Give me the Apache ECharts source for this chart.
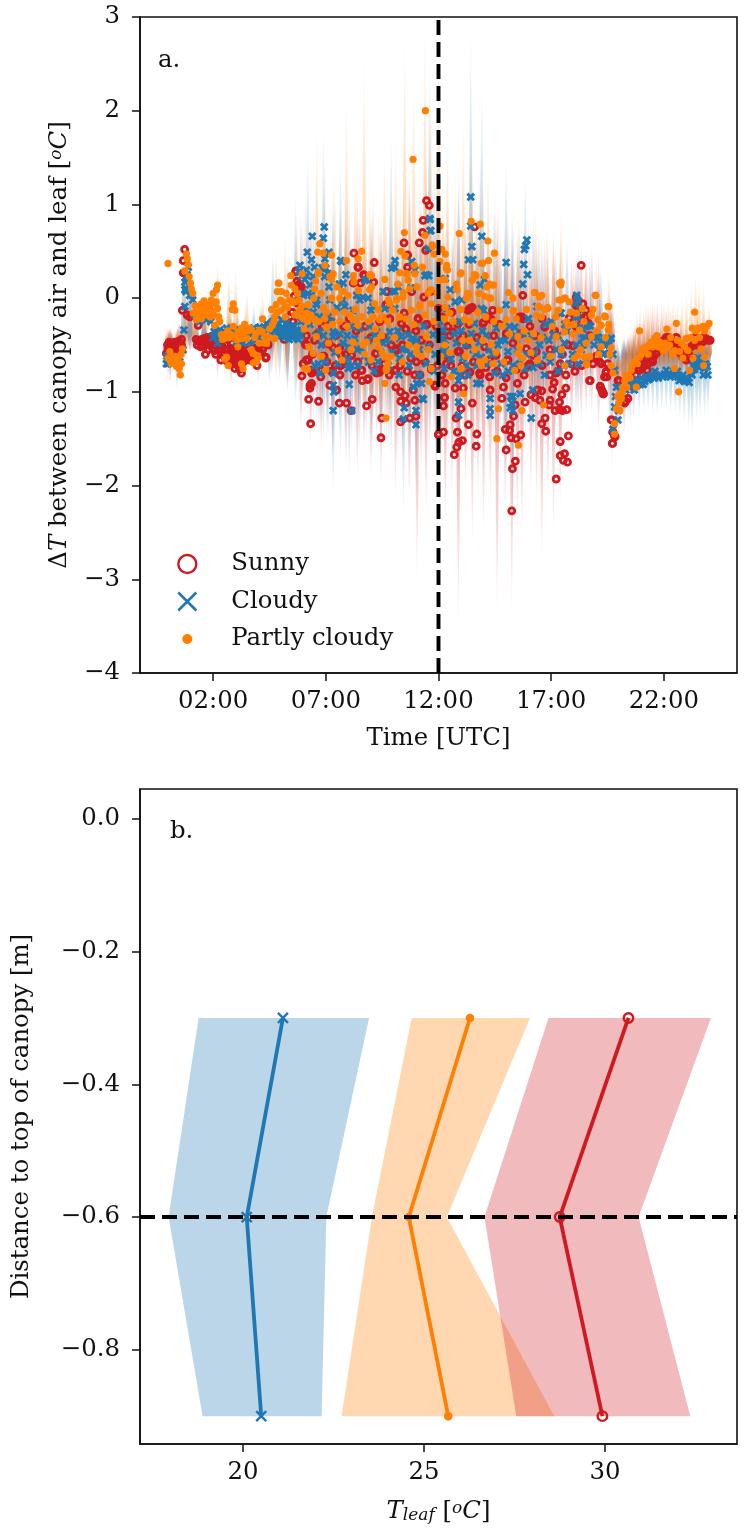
<!DOCTYPE html>
<html><head><meta charset="utf-8">
<style>html,body{margin:0;padding:0;background:#fff}#c{width:748px;height:1533px}</style>
<script src="https://cdn.jsdelivr.net/npm/echarts@6/dist/echarts.min.js"></script>
</head><body><div id="c"></div>
<script>
const timeTicks=[2,7,12,17,22];
const depthTicks=[0,-0.2,-0.4,-0.6,-0.8];
const leafTicks=[20,25,30];
const seriesNames=['Sunny','Cloudy','Partly cloudy'];

const sunnyPoints=[[-.07,-.59],[0,-.54],[.15,-.5],[.3,-.52],[.45,-.48],[.6,-.44],[.08,-.6],[.2,-.55],[.42,-.55],[.5,-.53],[.3,-.47],[.1,-.66],[.35,-.62],
[.74,.52],[.68,.4],[.68,.27],[.64,-.13],[.97,-.2],[1.34,-.29],[.85,-.18],
[1.4,-.45],[1.63,-.43],[1.93,-.41],[1.55,-.5],[1.85,-.5],[2.07,-.56],[2.3,-.54],[2.5,-.59],[2.8,-.54],[2.9,-.63],[3.04,-.68],[2.75,-.7],[3.1,-.59],[3.4,-.61],[3.63,-.66],[2.97,-.75],[3.26,-.8],[1.66,-.6],[1.25,-.44],[1.7,-.48],[2.0,-.48],[2.4,-.6],[2.62,-.55],[3.2,-.67],[3.5,-.55],[3.75,-.53],[1.5,-.44],[2.2,-.5],[2.7,-.62],[3,-.57],[3.25,-.52],[3.95,-.72],[4.34,-.64],[4.44,-.5],[5.15,-.44],[3.75,-.67],[4.35,-.63],[4.1,-.58],[2.55,-.65],[2.85,-.48],
[6.1,-.49],[6.18,-.66],[6.0,-.7],[6.44,-.79],[6.3,-.93],[5.77,.1],[5.67,.29],[5.85,.09],[5.78,.05],[5.92,.12],[5.68,.28],[5.4,-.2],[5.3,-.28],[6.12,-.5],[6.41,-.6],[5.94,-.83],[6.22,-.66],[6.37,-.8],[6.78,-.84],[6.8,-.77],[6.92,-.62],[6.3,-.96],[6.37,-.91],[6.24,-1.08],[6.68,-1.1],[6.33,-1.34],[7.18,-.93],[7.29,-.78],[7.66,-.72],[7.63,-.82],[7.48,-.98],[7.6,-1.12],[7.92,-1.12],[7.14,-.49],[7.89,-.6],[8.14,-.61],[8.6,-.77],[8.62,-.88],[8.85,-.87],[9.06,-1.08],[8.81,-1.15],[8.12,-1.2],[9.25,-.8],[9.38,-.76],[9.22,-.59],[10.07,-.77],[10.11,-.95],[10.14,-.54],[10.32,-1],[10.51,-1.04],[10.33,-1.1],[10.56,-1.12],[10.95,-1.09],[10.88,-.98],[11.18,-.82],[9.48,-1.28],[9.45,-1.49],[10.32,-1.32],[10.73,-1.28],[11,-1.26],[12,-1.46],[11.84,-.93],[11.7,-.75],
[8.25,.48],[8.44,.33],[8.71,.24],[8.22,.16],[8.54,.16],[9.12,.17],[9.15,.38],[10.47,.59],[10.63,.46],[10.63,.33],[10.81,.07],[11.65,.07],[9.7,.07],[11.35,.01],[9.67,-.07],[10.48,-.16],[11.1,-.22],[11.51,-.28],[9.58,-.22],[10.36,-.27],[12,-.11],[11.47,1.04],[11.59,.99],[11.32,.83],[11.29,.7],[11.15,.59],[11.43,.51],
[8.43,.33],[8.68,.25],[9.72,.07],[9.69,-.07],[9.84,-.22],[9.39,-.25],[11.09,-.22],[11.46,-.28],[6.11,-.49],[6.88,-.62],[7.1,-.48],[7.69,-.61],[8.14,-.61],[6.36,-.77],[6.8,-.77],[7.25,-.78],[7.65,-.72],[8.58,-.77],[8.88,-.86],[9.39,-.79],[10.13,-.56],[10.1,-.77],[10.77,-.64],[9.22,-.59],[11.02,-.68],[11.68,-.76],[12.35,-.7],[6.14,-.4],[7.33,-.53],[7.62,-.53],[6.14,-.66],
[12.3,-.91],[11.85,-.94],[12.27,-1.06],[12.22,-1.15],[12.78,-1.28],[12.22,-1.43],[12,-1.45],[12.84,-1.43],[13,-1.18],[13.5,-1.12],[13.33,-1.35],[13.06,-1.52],[12.9,-1.54],[12.81,-1.59],[12.7,-1.67],[13.7,-1.45],[13.67,-1.58],[14.29,-.98],[14.81,-1.07],[14.88,-.95],[13.18,-.82],[13.4,-.79],[13.85,-.82],[14.26,-.84],[13.1,-.96],[12.74,-.96],[12.93,-.57],[12.34,-.61],[15.18,-1.35],[14.96,-1.4],[15.15,-1.41],[15.65,-1.46],[15.44,-1.5],[15.22,-1.49],[15,-1.62],[15.41,-1.74],[15.28,-1.82],[15.25,-2.27],[15.33,-1.26],[15.4,-1.14],[15.84,-1.11],[15.5,-.91],[16.73,-1.28],[16.58,-1.34],[16.76,-1.42],[17.4,-1.53],[17.76,-1.47],[17.4,-1.68],[17.59,-1.66],[17.54,-1.73],[17.72,-1.75],[17.22,-1.93],[16.91,-1.14],[16.95,-1.09],[17.17,-1.2],[17.37,-1.19],[17.5,-1.2],[17.69,-1.19],[17.37,-1.11],[17.47,-1.03],[17.65,-.96],[17.06,-.97],[17.13,-.9],[17.32,-.78],[16.5,-1.09],[16.29,-1.06],[16.1,-1.03],[16.58,-.99],[16.4,-.98],[15.06,-.66],[17.96,-.51],[18.73,-.88],[19.17,-.94],[19.24,-.98],[19.32,-1.02],[19.47,-.84],[19.43,-.79],
[20,-.88],[19.69,-1.3],[19.73,-1.43],[19.83,-1.48],[19.72,-1.55],[18.33,.35],[15.74,.03],[13.6,.76],[16.73,-.3],[17.8,-.21],[15.7,-.2],[14,-.26],[14.3,-.22],[13.4,-.11],[13.97,-.27],[14.34,-.23],[13.31,-.13],[16.71,-.31],[15.08,-.66],[14.27,-.84],[13.82,-.8],[13.38,-.79],[12.86,-.57],[12.2,-.41],[15.97,-.72],[17.22,-.8],[16.34,-.57],[13.25,-.5],[14.27,-.66],[12.64,-.36],[12.5,-.4],[12.42,-.3],[15.6,-.2],[15.75,-.22],[13.5,-.1],[14.4,-.13],[12.94,-.45],[14.2,-.2],[18.11,.01],[18.2,-.03],[18.4,-.06],[18.55,-.13],[18.1,-.08],[14.56,-.61],[17.89,-.7],[15.9,-.54],[18.33,-.22],[16.19,-.61],
[18.2,-.1],[18.35,-.17],[18.5,-.2],[18.65,-.27],[18.63,-.29],[18.85,-.7],[19.15,-.68],[19.22,-.7],[19.44,-.78],[19.36,-.84],[18.7,-.88],[19.18,-.95],[19.27,-1],[19.3,-1.02],[19.66,-1.3],[19.74,-1.43],[19.81,-1.47],[19.71,-1.55],[20.4,-1.07],[20.25,-1.12],[19.96,-.88],[20.3,-1.1],
[20.92,-.77],[20.75,-.82],[21.14,-.72],[21.3,-.7],[21.44,-.66],[21.55,-.62],[21.66,-.59],[21.8,-.54],[22.0,-.45],[22.25,-.45],[22.47,-.47],[22.6,-.5],[22.7,-.58],[22.84,-.63],[22.99,-.66],[23.1,-.6],[23.3,-.5],[23.51,-.45],[23.7,-.47],[23.95,-.45],[23.85,-.43],[24.05,-.45],[21.26,-.77],[21.0,-.7],[21.25,-.65],[23.4,-.42],[22.2,-.42],[22.35,-.45]];
const sunnyExtra=[[-.02,-.5],[.05,-.47],[.12,-.55],[.24,-.6],[.38,-.5],[.55,-.5],[.02,-.62],[.22,-.48],[.48,-.46],[.6,-.5],
[1.3,-.5],[1.45,-.52],[1.58,-.46],[1.75,-.42],[1.9,-.45],[2.05,-.44],[2.15,-.46],[2.3,-.47],[2.42,-.52],[2.55,-.5],[2.66,-.6],[2.78,-.58],[2.88,-.55],[3.02,-.62],[3.12,-.52],[3.2,-.6],[3.32,-.55],[3.45,-.66],[3.55,-.6],[3.68,-.58],[3.82,-.6],[3.9,-.55],[4.02,-.52],[4.2,-.55],[1.8,-.55],[1.98,-.54],[2.12,-.6],[2.35,-.66],[2.65,-.68],[2.86,-.7],[3.1,-.72],[3.18,-.76],[3.35,-.68],[2.95,-.66],[1.45,-.46],[1.35,-.46],
[5.72,.18],[5.82,.15],[5.6,.02],[5.72,-.05],[5.5,-.15],[5.55,-.25],[6.03,-.15],[6.65,-.38],[6.5,-.45],[6.85,-.3],[7.2,-.25],[7.45,-.4],[7.8,-.3],[8.05,-.22],[8.35,-.35],[8.75,-.3],[9.0,-.42],[9.55,-.42],[9.9,-.5],[10.4,-.5],[10.55,-.33],[11,-.35],[11.25,-.45],[11.6,-.5],[11.9,-.3],[12.15,-.2],[12.6,-.15],[12.85,-.28],[13.1,-.4],[13.35,-.28],[13.7,-.42],[14.05,-.52],[14.45,-.4],[14.7,-.28],[15.0,-.38],[15.3,-.48],[15.65,-.38],[16.05,-.3],[16.3,-.4],[16.6,-.22],[16.95,-.55],[17.15,-.35],[17.5,-.6],[17.75,-.5],[18.1,-.3],[18.7,-.4],[19,-.62],[19.5,-.7],
[7.05,-.68],[7.42,-.72],[7.78,-.7],[8.32,-.82],[8.42,-.68],[9.05,-.72],[9.6,-.7],[9.82,-.82],[10.3,-.72],[10.62,-.78],[10.95,-.82],[11.4,-.68],[11.95,-.72],[12.15,-.82],[12.55,-.72],[13.05,-.72],[13.55,-.68],[14.1,-.74],[14.6,-.78],[15.0,-.85],[15.45,-.76],[15.8,-.82],[16.05,-.7],[16.6,-.72],[16.95,-.82],[17.4,-.7],[17.65,-.82],[18.05,-.78],[18.35,-.72],
[20.85,-.75],[21.05,-.73],[21.2,-.63],[21.4,-.6],[21.5,-.68],[21.7,-.52],[21.9,-.48],[22.1,-.42],[22.3,-.5],[22.55,-.42],[22.75,-.52],[22.9,-.58],[23.05,-.62],[23.2,-.52],[23.45,-.5],[23.6,-.46],[23.75,-.42],[20.6,-.88]];

const cloudyPoints=[[-.07,-.7],[.67,-.55],[.52,-.63],[.08,-.67],[.3,-.68],[0,-.7],[-.05,-.62],[.71,-.34],[.75,-.09],[.75,.09],[.9,.33],[.83,.19],[.75,.17],[.82,.1],[.97,.03],[.8,.07],[1.1,-.02],[.85,.25],
[1.4,-.25],[1.7,-.23],[1.9,-.25],[1.2,-.18],[1.55,-.16],[2.15,-.4],[2.3,-.34],[2.6,-.32],[2.9,-.36],[3.2,-.34],[3.5,-.34],[3.8,-.32],[4.07,-.31],[4.37,-.27],[4.66,-.25],[4.8,-.34],[5.1,-.31],[5.4,-.38],[5.03,-.23],[5.2,-.37],[5.7,-.34],[5.5,-.42],[5.7,-.42],[2.6,-.43],[3.04,-.47],[3.33,-.48],[3.63,-.47],[3.9,-.45],[2.2,-.48],[2.45,-.38],[2.75,-.4],[3.05,-.37],[3.35,-.37],[3.65,-.38],[3.95,-.38],[4.2,-.33],[4.5,-.3],[4.9,-.28],[5.25,-.27],[5.45,-.3],[5.6,-.3],[5.8,-.36],[5.9,-.25],[2.0,-.42],
[6.93,.76],[6.89,.64],[6.4,.66],[6.18,.49],[7.14,.49],[6.37,.41],[5.85,.35],[5.81,.28],[6.96,.42],[6.84,.32],[7.0,.32],[7.66,.4],[7.89,.25],[7.6,.15],[7.14,.12],[5.93,.24],[6.15,.24],[6.44,.23],[6.22,.05],[6.0,.03],[6.37,.03],[6.59,-.07],[6.59,-.02],[7.18,-.02],[8.37,.03],[8.81,.2],[8.51,-.02],[10.07,.4],[9.92,.32],[9.55,.07],[9.99,.07],[10.81,.39],[10.78,.11],[11.62,.85],[11.66,.72],[11.54,.53],[11.4,.24],[11.57,.24],[10.21,.12],[9.62,-.11],[10.07,-.11],[9.0,-.13],[7.75,-.02],[8.65,.01],[8.2,-.13],
[6.14,.3],[6.5,.33],[6.95,.33],[7.7,.39],[6.29,.14],[6.07,.2],[6,.05],[6.58,-.06],[6.44,-.15],[6.95,.23],[7.1,.26],[7.77,.16],[7.84,-.09],[8.73,.19],[8.88,0],[9.1,-.09],[10.06,.33],[11.46,.25],[10.95,.3],[10.06,.07],[7.25,-.25],[6.8,-.5],[7.33,-.36],[7.62,-.38],[8.5,-.32],[8.28,-.43],[8.58,-.54],[8,-.52],[8.06,-.73],[7.77,-.48],[9.25,-.36],[9.54,-.48],[9.32,-.68],[10.06,-.43],[10.35,-.41],[10.65,-.39],[10.87,-.43],[10.57,-.54],[10.28,-.64],[10.8,-.47],[11.02,-.45],[11.17,-.82],[11.76,-.39],[9.84,-.36],[8.88,-.45],[7.33,-.41],[6.73,-.36],[11.02,-.54],[12.2,-.43],[9.17,-.4],
[7.33,-1.2],[8.15,-1.2],[8.04,-.92],[11.33,-1.08],[11,-1.2],[11,-1.35],[10.44,-1.29],[10.48,-1.17],[10.9,-.95],[7.33,-.93],[7.33,-.8],[6.74,-.8],[6.67,-.7],[8,-.75],[8.15,-.72],[7.36,-1],[11.03,-.91],[11.25,-.91],[11.28,-1.07],
[13.43,1.08],[13.43,.77],[13.92,.66],[13.48,.55],[13.33,.41],[13.52,.41],[15,.38],[15.92,.62],[15.87,.56],[15.81,.52],[15.78,.36],[15.95,.25],[15.74,.15],[15,-.07],[13.85,.14],[14.04,.2],[12.52,.09],[12.3,.21],[11.63,.84],[11.63,.72],[15.99,-.22],[16.36,-.09],[17.44,-.16],[18.13,.03],[18.06,-.06],[12.74,-.04],[13.03,-.02],[12.37,-.11],[14,-.13],
[12.89,-1.11],[12.89,-1.25],[16.11,-1.28],[14.29,-1.07],[14.29,-1.18],[14.29,-1.25],[15.2,-1.05],[15.25,-1.12],[15.3,-1.2],[15.18,-1.17],[15.3,-1.05],[16.18,-.98],[13.7,-.91],[13.85,-.91],[12.89,-.88],[15.62,-1.02],
[12.94,-.25],[12.2,-.34],[13.9,-.11],[13.6,-.27],[14.56,-.32],[15.38,-.31],[15.97,-.22],[17.37,-.16],[17.08,-.39],[15.4,-.4],[13.82,-.47],[14.64,-.5],[15.08,-.57],[13.08,-.64],[13.9,-.63],[14.78,-.7],[16.48,-.5],[16.78,-.61],[16.48,-.7],[18.26,-.31],[18.4,-.43],[17.59,-.48],[17.22,-.55],[15.6,-.7],[14.49,-.8],[12.42,-.6],[13.53,-.55],[18.18,-.2],[14.12,-.4],[12.2,-.57],[12.94,-.82],[18.55,-.66],[18.11,-.5],[16.1,-.4],[16.9,-.45],[17.7,-.35],[15.1,-.78],[16.7,-.82],[17.8,-.7],[12.7,-.38],[13.25,-.72],
[18.41,-.33],[18.48,-.42],[18.63,-.29],[18.93,-.41],[19.22,-.48],[19.44,-.5],[19.66,-.43],[18.33,-.55],[18.41,-.5],[19.15,-.55],[19.37,-.59],[18.9,-.5],[19.55,-.5],[19.81,-.77],[19.89,-.95],[20.11,-1.04],[19.81,-1.16],[19.96,-1.3],[19.74,-1.4],[19.98,-1.2],[19.85,-1.05],[19.74,-.6],
[20.3,-.98],[20.45,-.95],[20.62,-.93],[20.8,-.93],[20.95,-.92],[21.15,-.89],[21.3,-.87],[21.37,-.86],[21.5,-.83],[21.66,-.82],[21.85,-.82],[22.03,-.81],[22.2,-.81],[22.4,-.81],[22.5,-.82],[22.62,-.84],[22.75,-.86],[22.92,-.89],[23.0,-.88],[23.06,-.86],[23.18,-.8],[23.29,-.72],[23.4,-.68],[23.51,-.64],[23.6,-.68],[23.7,-.72],[23.8,-.75],[23.95,-.82],[23.92,-.73],[20.7,-.88],[21.0,-.85],[21.6,-.78],[22.1,-.77],[22.6,-.78],[23.25,-.82],[23.55,-.74]];
const cloudyExtra=[[2.05,-.36],[2.2,-.37],[2.35,-.42],[2.5,-.36],[2.68,-.36],[2.82,-.33],[2.98,-.4],[3.12,-.42],[3.28,-.38],[3.42,-.42],[3.58,-.38],[3.72,-.36],[3.88,-.35],[4.0,-.42],[4.13,-.36],[4.28,-.38],[4.42,-.32],[4.58,-.38],[4.72,-.3],[4.85,-.38],[4.98,-.34],[5.12,-.36],[5.32,-.33],[5.38,-.44],[5.52,-.36],[5.62,-.4],[5.78,-.44],[5.88,-.4],[5.18,-.42],[5.05,-.4],
[6.08,-.1],[6.3,-.28],[6.55,-.4],[6.72,-.2],[6.9,-.4],[7.1,-.2],[7.5,-.1],[7.4,-.58],[7.95,-.4],[8.12,-.3],[8.4,-.55],[8.7,-.62],[8.95,-.3],[9.45,-.58],[9.7,-.45],[9.95,-.58],[10.2,-.35],[10.42,-.55],[10.75,-.6],[11.15,-.55],[11.35,-.3],[11.55,-.52],[11.85,-.6],[12.05,-.25],[12.3,-.5],[12.55,-.65],[12.8,-.48],[13.0,-.35],[13.2,-.5],[13.45,-.38],[13.65,-.6],[13.95,-.35],[14.25,-.55],[14.4,-.6],[14.75,-.45],[14.95,-.45],[15.15,-.3],[15.5,-.55],[15.75,-.38],[15.9,-.6],[16.25,-.58],[16.6,-.42],[16.75,-.28],[17.0,-.25],[17.3,-.4],[17.45,-.6],[17.6,-.28],[17.95,-.6],[18.1,-.2],[18.3,-.12],[18.2,-.03],[18.75,-.3],[19.05,-.42],[19.3,-.42],[19.5,-.6],
[6.52,-.72],[6.98,-.68],[7.55,-.7],[7.98,-.65],[8.45,-.72],[8.9,-.68],[9.15,-.78],[9.78,-.72],[10.25,-.82],[10.7,-.72],[11.45,-.7],[11.8,-.78],[12.25,-.75],[12.68,-.78],[13.3,-.82],[13.7,-.72],[14.2,-.7],[14.85,-.82],[15.3,-.72],[15.85,-.75],[16.2,-.74],[16.95,-.68],[17.3,-.78],[17.55,-.72],[18.2,-.7],
[20.5,-.9],[20.68,-.98],[20.88,-.88],[21.08,-.92],[21.22,-.84],[21.42,-.82],[21.58,-.85],[21.75,-.85],[21.95,-.84],[22.28,-.84],[22.45,-.78],[22.68,-.88],[22.85,-.82],[23.12,-.9],[23.35,-.76],[23.45,-.72],[23.75,-.82],[23.85,-.7]];

const partlyPoints=[[.08,-.57],[.64,-.54],[0,-.64],[.23,-.64],[.15,-.7],[.38,-.73],[.55,-.82],[.6,-.7],[.3,-.62],[.45,-.65],[0,.37],
[.82,.47],[.9,.36],[.75,.29],[.94,.23],[1,.16],[1.04,.1],[1.1,.05],[.86,.42],
[1.12,-.16],[1.26,-.13],[1.48,-.06],[1.7,-.07],[1.85,-.09],[2,-.06],[2.2,-.11],[2.14,-.04],[1.64,-.13],[1.45,-.12],[1.78,-.15],[1.26,-.23],[1.48,-.22],[2,.05],[2.2,.14],[2.15,.09],[2.9,-.06],[2.85,-.12],[2.97,-.13],[2.3,-.25],[2.07,-.29],[1.6,-.03],[1.95,-.14],
[2.37,-.39],[2.5,-.43],[2.8,-.39],[3.1,-.36],[3.26,-.32],[3.5,-.43],[3.63,-.32],[4.07,-.34],[4.3,-.41],[4.37,-.48],[4.05,-.48],[3.25,-.43],[4.73,-.43],[3.1,-.52],[3.78,-.59],[3.92,-.61],[4,-.63],[3.7,-.55],[2.6,-.63],[2.52,-.65],[2.67,-.72],[3.26,-.7],[3.33,-.75],[3.78,-.69],[4.63,-.29],[4.73,-.2],[4.89,.16],[4.85,.07],[5.03,.07],[5.47,.14],[4.8,-.07],[5.03,-.13],[5.18,-.09],[5.4,-.02],[5.62,-.04],[5.1,-.04],[5.7,-.17],[6,-.22],[6.14,-.16],[5.92,-.09],[6.2,-.25],[6.5,.1],[6.47,0],[5.95,.26],[3.93,-.68],
[2.9,-.3],[3.4,-.28],[3.9,-.38],[4.5,-.33],[2.65,-.35],[4.2,-.22],[4.6,-.12],
[5.45,.24],[4.92,.16],[5.63,.1],[6.74,.58],[6.64,.49],[6.89,.48],[7.26,.46],[6.67,.26],[7.33,.26],[7.26,.2],[6.96,.35],[8.59,.5],[8.44,.42],[7.92,.4],[8.22,.24],[8.25,.17],[9.03,.24],[10.33,.5],[10.51,.45],[10.58,.26],[10.92,.35],[10.95,.26],[10.44,.06],[11.4,.67],[11.74,.55],[11.29,.33],[11.18,-.07],[10.14,0],[9.78,-.02],[10.49,.7],[11.42,2],[10.87,1.48],
[6.66,.28],[7.18,.23],[7.77,.07],[7.25,0],[7.62,0],[7.99,.03],[6.8,.05],[5.85,-.13],[6.2,-.07],[6.14,-.23],[5.92,-.2],[7.03,-.15],[6.95,-.22],[7.4,-.15],[7.62,-.25],[7.84,-.15],[8.06,-.18],[8.21,-.23],[8.43,-.29],[8.95,.25],[8.95,.09],[9.17,-.06],[9.1,-.2],[9.39,-.23],[9.54,-.2],[9.84,-.06],[10.13,-.02],[9.98,-.13],[10.28,.27],[10.57,.26],[10.65,.19],[10.72,.1],[10.43,.01],[10.28,-.2],[10.8,-.13],[11.17,-.09],[11.68,.09],[11.54,.05],[11.68,-.06],[7.03,-.31],[6.51,-.23],[6.58,-.41],[9.25,-.45],[9.47,-.4],[8.8,-.47],[8.65,-.5],[9.32,-.52],[8.21,-.47],[7.55,-.56],[9.76,-.7],[9.69,-.75],[9.62,-.63],[11.02,-.52],[11.02,-.57],[11.68,-.75],[12.28,-.5],[11.46,-.41],[6.44,-.59],[6.07,-.75],[7,-.77],[9.03,.12],
[6.19,-.76],[9.62,-.91],[9.67,-1.28],[11.6,-.89],[9.68,-.77],
[12.92,.69],[13.45,.82],[13.85,.79],[14.19,.61],[14.48,.48],[14.22,.4],[13.95,.37],[13,.27],[13.66,.24],[13.5,.19],[14.07,.24],[14.44,.14],[14.14,.12],[14.04,.02],[14.32,0],[15.1,.06],[15.33,-.13],[13.33,.03],[12.81,.09],[12.07,.77],[12.15,.52],[12.3,.47],[11.8,.47],[11.72,.57],[12.07,.39],[12.37,.35],[12.4,.3],[12.07,.19],[17.44,.17],[17.42,.14],[16.29,.06],[16.58,.03],[16.47,-.09],[16.84,-.1],[17.44,-.02],[17.62,0],[17.32,-.13],[18.98,.03],[19.55,-.09],[19.4,-.2],
[12.98,.26],[13.9,.37],[13.6,.25],[14.41,.14],[13.3,.05],[13.79,.05],[14.27,0],[12.35,.32],[12.28,.2],[12.82,.09],[13.23,0],[12.42,.01],[17.37,.16],[16.26,.06],[16.48,.01],[16.41,-.09],[16.85,-.11],[17.34,-.02],[17.59,0],[17.8,-.04],[17.3,-.13],[16.34,-.18],[16.56,-.2],[15.3,-.14],[14.71,-.13],[15,-.23],[12.49,-.16],[12.27,-.22],[13.16,-.23],[13.08,-.45],[13.38,-.45],[14.34,-.5],[13.97,-.45],[15.52,-.41],[15.6,-.52],[15.97,-.45],[17.22,-.41],[17.59,-.36],[18.11,-.16],[17.74,-.29],[17.96,-.38],[18.18,-.61],[18.03,-.64],[15.52,-.59],[15.38,-.77],[15.75,-.64],[13.82,-.68],[13.01,-.75],[14.05,-.66],[18.55,-.48],[17.67,-.25],[14.41,-.7],[12.57,-.84],
[15.55,-1.57],[14.59,-1.5],[15.7,-1.2],[14.66,-1.18],[13.11,-1.02],[16.66,-1.14],[18.58,-.71],
[18.95,.03],[19.52,-.09],[19.37,-.19],[19.07,-.23],[18.78,-.18],[19.22,-.29],[19.52,-.34],[18.38,-.11],[18.26,-.34],[18.78,-.41],[19.22,-.52],[19.66,-.53],[18.48,-.63],[18.56,-.7],[19.66,-.72],[19.74,-.8],
[20.92,-.35],[22.13,-.33],[22.55,-.27],[23.36,-.15],[24,-.27],[23.26,-.32],[23.51,-.32],[23.8,-.35],[21.69,-.4],[22.99,-.43],[21.59,-.43],[21.44,-.47],[21.22,-.52],[21.07,-.54],[20.92,-.63],[20.7,-.68],[20.55,-.77],[20.26,-.88],[20.18,-.95],[20.4,-.85],[20.77,-.95],[20.11,-1.07],[20,-1.12],[19.89,-1.18],[20.04,-1.2],[19.81,-1.34],[19.81,-1.45],[22.65,-1],[22.47,-.75],[23.14,-.77],[23.8,-.63],[23.76,-.72],[21.96,-.56],[22.25,-.5],[22.47,-.56],[22.18,-.52],[22.69,-.57],[22.84,-.64],[23.36,-.45],[23.65,-.54],[23.29,-.64],[21.81,-.47],[22.4,-.6],[23.06,-.56],[21.3,-.6],[21.0,-.6],[21.5,-.52],[21.75,-.52],[20.5,-.85],[20.35,-.95],[20.15,-1],[19.95,-1.05]];
const partlyExtra=[[.12,-.68],[.28,-.7],[.5,-.75],[.58,-.6],[1.2,-.08],[1.38,-.2],[1.55,-.17],[1.72,-.18],[1.88,-.2],[2.05,-.18],[2.25,-.2],[1.35,-.1],[1.92,-.02],[2.42,-.44],[2.58,-.38],[2.72,-.42],[2.95,-.42],[3.05,-.44],[3.18,-.4],[3.35,-.37],[3.55,-.35],[3.72,-.34],[3.85,-.42],[4.18,-.36],[4.28,-.48],[4.5,-.42],[4.7,-.25],[4.85,-.15],[5.0,-.02],[5.2,-.2],[5.3,-.1],[5.5,-.05],[5.62,-.18],[5.82,-.02],[5.75,.05],[5.25,.05],
[6.05,-.33],[6.25,-.52],[6.35,-.18],[6.55,.18],[6.7,-.25],[6.82,-.62],[6.9,-.1],[7.12,-.48],[7.3,-.28],[7.5,.12],[7.72,-.66],[7.95,-.3],[8.12,-.55],[8.3,-.12],[8.45,.08],[8.6,-.2],[8.72,-.6],[8.9,-.25],[9.0,-.66],[9.2,-.33],[9.33,-.12],[9.5,-.58],[9.62,.2],[9.75,-.25],[9.9,-.62],[10.05,-.42],[10.2,.15],[10.4,-.68],[10.55,-.22],[10.68,-.5],[10.9,-.28],[11.05,.12],[11.25,-.62],[11.4,-.18],[11.55,-.55],[11.8,-.25],[11.95,.05],[12.1,-.62],[12.3,-.1],[12.5,-.58],[12.65,-.25],[12.8,.15],[13.0,-.12],[13.2,-.62],[13.4,-.25],[13.6,-.55],[13.75,-.15],[13.9,-.72],[14.1,-.2],[14.25,.15],[14.45,-.25],[14.55,-.58],[14.8,-.3],[14.9,-.68],[15.15,-.38],[15.3,.0],[15.45,-.22],[15.65,-.72],[15.8,-.35],[15.9,-.12],[16.1,-.58],[16.22,-.38],[16.4,-.66],[16.55,-.42],[16.7,-.12],[16.95,-.62],[17.05,-.3],[17.2,-.2],[17.45,-.55],[17.6,-.72],[17.85,-.15],[18.0,-.28],[18.3,-.55],[18.45,-.25],[18.7,-.62],[18.85,-.12],[19.0,-.35],[19.1,-.6],[19.4,-.42],[19.55,-.28],[19.6,-.6],
[20.05,-1.02],[20.3,-.82],[20.6,-.72],[20.82,-.7],[21.15,-.55],[21.35,-.5],[21.62,-.48],[21.9,-.5],[22.05,-.48],[22.3,-.42],[22.6,-.45],[22.78,-.48],[22.92,-.52],[23.18,-.42],[23.42,-.35],[23.58,-.42],[23.72,-.3],[23.9,-.3]];

const sunnySpread=[[.1,-.9,-.3],[.5,-.85,-.25],[1,-.6,.3],[1.6,-.7,-.15],[2.2,-.9,-.2],[2.8,-1,-.15],[3.3,-1,-.3],[4,-.95,-.25],[4.6,-.85,-.1],[5.3,-1,.4],[5.9,-1.5,1.0],[6.33,-1.64,1.08],[6.6,-1.4,.6],[6.8,-1.7,.9],[7.05,-1.5,.7],[7.3,-1.8,.9],[7.6,-1.4,.8],[7.9,-1.9,1.1],[8.15,-1.6,.7],[8.4,-2,1.3],[8.7,-1.7,.8],[9,-2,1.0],[9.25,-1.6,.6],[9.45,-2.1,.9],[9.8,-1.7,.7],[10.1,-2.2,.7],[10.4,-1.8,.8],[10.7,-2.3,1.4],[11.05,-3.15,.9],[11.25,-1.9,1.1],[11.45,-2.4,1.7],[11.9,-2.1,1.3],[12.1,-2,.8],[12.3,-2.5,.9],[12.6,-2.2,.8],[12.88,-3.64,1.3],[13.2,-2.2,.9],[13.5,-2.72,1.0],[13.75,-2.2,.8],[14,-2.6,1.0],[14.3,-2.3,.7],[14.6,-3.5,1],[14.95,-2.4,.8],[15.25,-3.5,.9],[15.5,-2.5,.7],[15.7,-2.6,.8],[16.1,-2.2,.6],[16.35,-2.3,.7],[16.58,-2.93,.7],[16.85,-2.2,.6],[17.1,-2.6,.7],[17.4,-2.3,.6],[17.9,-1.5,.5],[18.1,-1.3,.5],[18.33,-1.4,.65],[18.55,-1.3,.55],[18.8,-1.3,.6],[19.1,-1.5,.5],[19.7,-1.9,0],[20,-1.6,-.5],[20.25,-1.5,-.4],[20.5,-1.4,-.35],[20.7,-1.2,-.25],[20.9,-1.1,-.2],[21.1,-1,-.1],[21.3,-.95,-.05],[21.5,-.95,0],[21.7,-.9,0],[21.9,-.9,-.02],[22.1,-.9,-.05],[22.3,-.9,-.08],[22.5,-.9,-.1],[22.75,-.9,-.15],[23,-.9,-.2],[23.25,-.85,-.15],[23.5,-.8,-.1],[23.75,-.75,-.12],[24,-.7,-.15]];
const cloudySpread=[[.1,-.95,-.35],[.4,-1,-.4],[.7,-.75,.65],[.95,-.6,.55],[1.25,-.55,.1],[1.6,-.6,-.05],[2,-.7,-.1],[2.3,-.75,-.15],[2.7,-.8,-.1],[3.1,-.85,-.1],[3.4,-.85,-.15],[3.8,-.8,-.05],[4.1,-.75,-.05],[4.5,-.95,.05],[4.65,-.7,.55],[4.95,-.9,.35],[5.3,-1.05,.4],[5.66,-1.2,1.18],[5.98,-1.15,.9],[6.2,-1.25,1.65],[6.45,-1.4,1.1],[6.7,-1.5,1],[6.9,-1.6,1.89],[7.1,-1.6,.9],[7.33,-2.22,1.3],[7.65,-1.8,1.54],[7.85,-1.6,.9],[8.04,-1.98,1.2],[8.3,-1.5,.8],[8.5,-1.7,.9],[8.8,-1.6,.8],[9.05,-1.76,1.0],[9.45,-1.7,.85],[9.7,-1.6,.9],[9.9,-1.8,1.86],[10.2,-1.8,1.1],[10.45,-2.4,1.2],[10.75,-1.9,1.3],[11,-2.2,1.1],[11.2,-1.8,1.2],[11.6,-1.8,2.6],[11.8,-1.6,1.6],[12,-1.7,1.3],[12.2,-1.6,.9],[12.4,-1.6,1.08],[12.65,-1.7,.9],[12.9,-1.98,1.5],[13.2,-1.5,.9],[13.43,-1.6,3],[13.7,-1.5,1],[13.92,-1.5,2.39],[14.2,-1.6,.9],[14.5,-1.6,1.2],[14.75,-1.6,.8],[15,-2.2,1.6],[15.3,-2.4,1],[15.6,-1.6,.8],[15.85,-1.6,1.4],[16.2,-1.7,1],[16.45,-1.5,.8],[16.7,-1.6,.7],[17.2,-1.5,.6],[17.7,-1.4,.7],[18.2,-1.34,.65],[18.7,-1.2,.5],[19.2,-1.1,.4],[19.6,-1.6,.1],[19.9,-1.6,-.4],
[20.2,-1.4,-.4],[20.4,-1.38,-.38],[20.65,-1.35,-.35],[20.9,-1.32,-.35],[21.1,-1.28,-.35],[21.3,-1.25,-.3],[21.5,-1.28,-.3],[21.7,-1.32,-.3],[21.9,-1.25,-.3],[22.1,-1.25,-.3],[22.3,-1.28,-.3],[22.5,-1.3,-.3],[22.7,-1.35,-.3],[22.9,-1.4,-.35],[23.1,-1.45,-.35],[23.25,-1.48,-.3],[23.45,-1.35,-.3],[23.6,-1.32,-.25],[23.8,-1.3,-.3],[23.95,-1.25,-.35]];
const partlySpread=[[0,-.95,-.3],[.4,-.95,-.3],[.8,-.7,.4],[1.2,-.5,.1],[1.7,-.4,.15],[2.2,-.45,.42],[2.7,-.5,.3],[3,-.6,.35],[3.5,-.7,.1],[4.2,-.75,.1],[4.8,-.9,.6],[5.2,-.9,.75],[5.7,-1,1],[6.1,-1.1,1.2],[6.35,-1.1,.9],[6.6,-1.2,1.9],[6.95,-1.2,1.6],[7.2,-1.2,1],[7.4,-1.3,1.4],[7.65,-1.2,1.1],[7.92,-1.2,2.28],[8.3,-1.3,1.5],[8.5,-1.3,1.1],[8.7,-1.4,2.7],[8.95,-1.3,1.2],[9.1,-1.4,1.3],[9.35,-1.4,1.1],[9.6,-1.6,1.7],[9.85,-1.4,1.2],[10.1,-1.5,1.8],[10.3,-1.5,1.3],[10.5,-1.6,2.88],[10.7,-1.5,1.5],[10.9,-1.6,2.4],[11.15,-1.6,1.5],[11.4,-1.6,3.06],[11.65,-1.6,2.5],[12,-1.5,3],[12.2,-1.6,1.3],[12.4,-1.7,1.8],[12.74,-1.7,1.4],[13.1,-1.7,2],[13.3,-1.6,1.2],[13.45,-1.5,2],[13.65,-1.6,1.2],[13.85,-1.6,1.7],[14.2,-1.7,1.5],[14.45,-1.7,1],[14.65,-1.8,1.1],[15.1,-1.7,1],[15.55,-1.6,1.05],[16,-1.5,.9],[16.3,-1.5,1.04],[16.8,-1.4,.9],[17.1,-1.4,.8],[17.44,-1.3,1.04],[18,-1,.5],[18.5,-1,.4],[19,-.95,.45],[19.55,-1.2,.3],[19.9,-1.7,-.5],[20.2,-1.5,-.5],[20.4,-1.2,-.4],[20.6,-1,-.3],[20.8,-.9,-.1],[20.95,-.85,-.05],[21.2,-.82,0],[21.4,-.8,0],[21.6,-.82,-.05],[21.8,-.85,-.1],[22,-.85,0],[22.2,-.9,.05],[22.4,-.9,.02],[22.6,-.9,0],[22.8,-.9,.05],[23,-.9,.1],[23.2,-.85,.2],[23.4,-.75,.3],[23.55,-.75,.25],[23.75,-.8,.2],[24,-.7,0]];

const depths=[-0.3,-0.6,-0.9];
const cloudyLeaf=[21.1,20.1,20.5];
const partlyLeaf=[26.27,24.58,25.67];
const sunnyLeaf=[30.65,28.75,29.93];
const cloudyLow=[18.77,17.94,18.88], cloudyHigh=[23.48,22.3,22.17];
const partlyLow=[24.66,23.56,22.72], partlyHigh=[27.93,25.63,28.6];
const sunnyLow=[28.44,26.67,27.55], sunnyHigh=[32.93,30.93,32.36];

const RED='#cf1a20',BLUE='#1f78b4',ORANGE='#ff7f00';
const FONT='"DejaVu Serif"',FS=24.4;
const CROSS='path://M0 0L10 10M10 0L0 10';
const chart=echarts.init(document.getElementById('c'),null,{renderer:'canvas'});
const hhmm=v=>String(v).padStart(2,'0')+':00';
const minus=v=>String(v).replace('-','\u2212');

function spread(name,color,data){
  const c=echarts.color.modifyAlpha;
  return {type:'custom',name:name+' spread',xAxisIndex:0,yAxisIndex:0,silent:true,z:1,clip:true,data,
    renderItem:(p,api)=>{
      const h0=api.value(0),lo=api.value(1),hi=api.value(2);
      const t=api.coord([h0,hi]),b=api.coord([h0,lo]);
      const h=b[1]-t[1],w=3;
      const core=h0>20?-.6:-.4;
      const m=Math.min(.8,Math.max(.2,(hi-core)/(hi-lo)));
      const my=t[1]+h*m;
      return {type:'polygon',shape:{points:[[t[0],t[1]],[t[0]+w,my],[t[0],b[1]],[t[0]-w,my]]},
        style:{fill:new echarts.graphic.LinearGradient(0,0,0,1,[
          {offset:0,color:c(color,0)},{offset:m*.55,color:c(color,.24)},{offset:m,color:c(color,.42)},{offset:m+(1-m)*.45,color:c(color,.26)},{offset:1,color:c(color,0)}])}};
    }};
}
function band(name,color,lo,hi){
  return {type:'custom',name:name+' range',xAxisIndex:1,yAxisIndex:1,silent:true,z:2,data:[[0]],
    renderItem:(p,api)=>{
      const pts=[];
      depths.forEach((d,i)=>pts.push(api.coord([lo[i],d])));
      depths.slice().reverse().forEach((d,i)=>pts.push(api.coord([hi[2-i],d])));
      return {type:'polygon',shape:{points:pts},style:{fill:echarts.color.modifyAlpha(color,.3)}};
    }};
}
const pair=(xs)=>xs.map((x,i)=>[x,depths[i]]);
const yTitle={i:{fontFamily:FONT,fontStyle:'italic',fontSize:FS,color:'#111'},s:{fontFamily:FONT,fontStyle:'italic',fontSize:17,color:'#111',verticalAlign:'top',lineHeight:24},n:{fontFamily:FONT,fontSize:FS,color:'#111'}};
const axisLine={show:true,onZero:false,lineStyle:{color:'#111',width:1.6}};
const tick=v=>({show:true,length:8,customValues:v,lineStyle:{color:'#111',width:1.5}});

const option={
  animation:false,backgroundColor:'#fff',
  textStyle:{fontFamily:FONT,color:'#111'},
  grid:[{left:140,top:17,width:597,height:656,show:true,borderColor:'#111',borderWidth:1.6,backgroundColor:'transparent',outerBoundsMode:'none'},
        {left:140,top:789,width:597,height:655,show:true,borderColor:'#111',borderWidth:1.6,backgroundColor:'transparent',outerBoundsMode:'none'}],
  xAxis:[
   {type:'value',gridIndex:0,min:-1.24,max:25.24,splitLine:{show:false},axisLine,axisTick:tick(timeTicks),
    axisLabel:{customValues:timeTicks,formatter:hhmm,fontFamily:FONT,fontSize:FS,color:'#111',margin:17},
    name:'Time [UTC]',nameLocation:'middle',nameGap:54,nameTextStyle:{fontFamily:FONT,fontSize:FS,color:'#111'}},
   {type:'value',gridIndex:1,min:17.15,max:33.65,splitLine:{show:false},axisLine,axisTick:tick(leafTicks),
    axisLabel:{customValues:leafTicks,fontFamily:FONT,fontSize:FS,color:'#111',margin:17},
    name:'{i|T}{l|leaf}{n| [}{s|o}{i|C}{n|]}',nameLocation:'middle',nameGap:56,
    nameTextStyle:{rich:Object.assign({l:{fontFamily:FONT,fontStyle:'italic',fontSize:17,color:'#111',verticalAlign:'bottom',lineHeight:14}},yTitle)}}
  ],
  yAxis:[
   {type:'value',gridIndex:0,min:-4,max:3,interval:1,splitLine:{show:false},axisLine,axisTick:{show:true,length:8,lineStyle:{color:'#111',width:1.5}},
    axisLabel:{formatter:minus,fontFamily:FONT,fontSize:FS,color:'#111',margin:20},
    name:'\u0394{i|T}{n| between canopy air and leaf [}{s|o}{i|C}{n|]}',nameLocation:'middle',nameGap:68,nameRotate:90,
    nameTextStyle:{fontFamily:FONT,fontSize:FS,color:'#111',rich:yTitle}},
   {type:'value',gridIndex:1,min:-0.942,max:0.045,splitLine:{show:false},axisLine,axisTick:tick(depthTicks),
    axisLabel:{customValues:depthTicks,formatter:v=>minus(Number(v).toFixed(1)),fontFamily:FONT,fontSize:FS,color:'#111',margin:20},
    name:'Distance to top of canopy [m]',nameLocation:'middle',nameGap:106,nameRotate:90,nameTextStyle:{fontFamily:FONT,fontSize:FS,color:'#111'}}
  ],
  legend:{left:172,top:547,orient:'vertical',itemWidth:18,itemHeight:18,itemGap:13.5,selectedMode:false,
    textStyle:{fontFamily:FONT,fontSize:FS,color:'#111',padding:[0,0,0,30]},
    data:[
      {name:seriesNames[0],icon:'circle',itemStyle:{color:'transparent',borderColor:RED,borderWidth:2.4,opacity:1}},
      {name:seriesNames[1],icon:'path://M0 0L18 18M18 0L0 18',itemStyle:{color:'transparent',borderColor:BLUE,borderWidth:2.6,opacity:1}},
      {name:seriesNames[2],icon:'path://M0 0L0 0M18 18L18 18M9 4a5 5 0 1 0 .01 0z',itemStyle:{color:ORANGE,borderWidth:0,opacity:1}}
    ]},
  graphic:[
    {type:'text',left:158,top:49,style:{text:'a.',font:FS+'px "DejaVu Serif"',fill:'#111'}},
    {type:'text',left:170,top:820,style:{text:'b.',font:FS+'px "DejaVu Serif"',fill:'#111'}}
  ],
  series:[
    spread('Sunny',RED,sunnySpread),spread('Cloudy',BLUE,cloudySpread),spread('Partly cloudy',ORANGE,partlySpread),
    {type:'scatter',name:seriesNames[0],xAxisIndex:0,yAxisIndex:0,z:3,symbol:'circle',symbolSize:6,data:sunnyPoints.concat(sunnyExtra),
      itemStyle:{color:'transparent',borderColor:RED,borderWidth:2.9,opacity:1}},
    {type:'scatter',name:seriesNames[1],xAxisIndex:0,yAxisIndex:0,z:4,symbol:CROSS,symbolSize:6.6,data:cloudyPoints.concat(cloudyExtra),
      itemStyle:{color:'transparent',borderColor:BLUE,borderWidth:2.9,opacity:1}},
    {type:'scatter',name:seriesNames[2],xAxisIndex:0,yAxisIndex:0,z:5,symbol:'circle',symbolSize:7.2,data:partlyPoints.concat(partlyExtra),
      itemStyle:{color:ORANGE,opacity:1}},
    {type:'line',name:'Noon',xAxisIndex:0,yAxisIndex:0,z:6,symbol:'none',silent:true,data:[[12,-4],[12,3]],
      lineStyle:{color:'#000',width:3.9,type:[15,7]}},
    band('Cloudy',BLUE,cloudyLow,cloudyHigh),band('Partly cloudy',ORANGE,partlyLow,partlyHigh),band('Sunny',RED,sunnyLow,sunnyHigh),
    {type:'line',name:'Cloudy profile',xAxisIndex:1,yAxisIndex:1,z:4,data:pair(cloudyLeaf),symbol:CROSS,symbolSize:10,
      lineStyle:{color:BLUE,width:3.8},itemStyle:{color:'transparent',borderColor:BLUE,borderWidth:2.4,opacity:1}},
    {type:'line',name:'Partly cloudy profile',xAxisIndex:1,yAxisIndex:1,z:4,data:pair(partlyLeaf),symbol:'circle',symbolSize:8.5,
      lineStyle:{color:ORANGE,width:3.8},itemStyle:{color:ORANGE,borderWidth:0,opacity:1}},
    {type:'line',name:'Sunny profile',xAxisIndex:1,yAxisIndex:1,z:4,data:pair(sunnyLeaf),symbol:'circle',symbolSize:9.5,
      lineStyle:{color:RED,width:3.8},itemStyle:{color:'transparent',borderColor:RED,borderWidth:2.4,opacity:1}},
    {type:'line',name:'Reference depth',xAxisIndex:1,yAxisIndex:1,z:6,symbol:'none',silent:true,data:[[17.15,-0.6],[33.65,-0.6]],
      lineStyle:{color:'#000',width:3.9,type:[15,7]}}
  ]
};
chart.setOption(option);
</script></body></html>
